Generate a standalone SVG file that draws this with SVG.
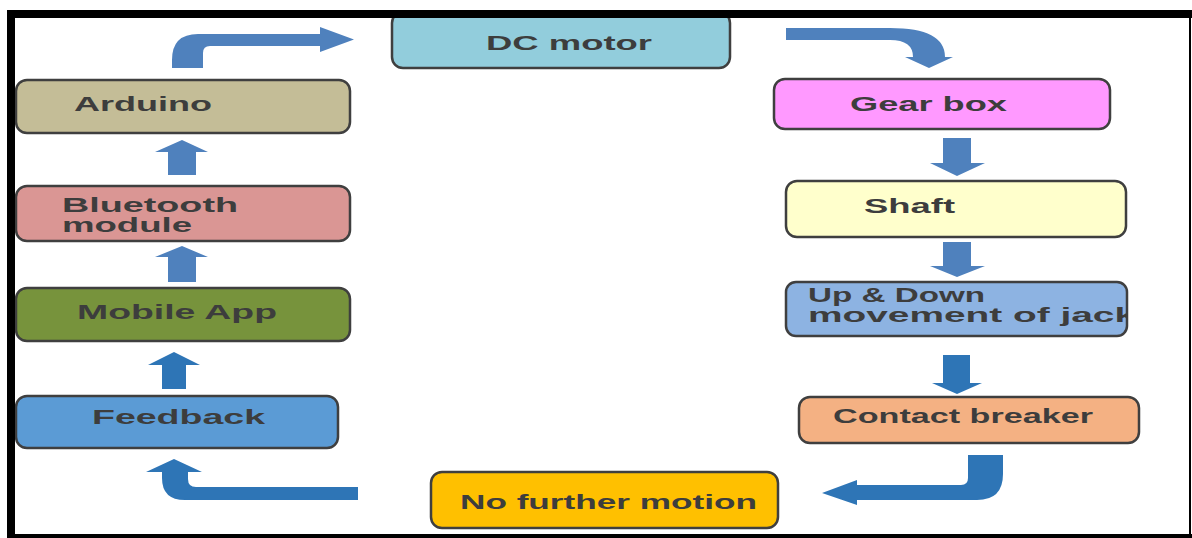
<svg xmlns="http://www.w3.org/2000/svg" width="1192" height="538" viewBox="0 0 1192 538">
<style>
.box{stroke:#3f3f3f;stroke-width:2.5}
.t{font-family:"Liberation Sans",Arial,sans-serif;font-weight:bold;font-size:20px;fill:#3d3d3d}
.a1{fill:#4f81bd}
.a2{fill:#2e75b6}
.frame{fill:#000000}
</style>
<defs>
<clipPath id="clipJack"><rect x="786" y="282" width="341" height="54" rx="10"/></clipPath>
</defs>
<rect x="0" y="0" width="1192" height="538" fill="#ffffff"/>
<g id="dc-motor"><rect class="box" x="392" y="12" width="338" height="56" rx="11" fill="#92cddc"/><text class="t" x="486" y="50" textLength="166" lengthAdjust="spacingAndGlyphs">DC motor</text></g>
<g id="arduino"><rect class="box" x="16" y="80" width="334" height="53" rx="11" fill="#c4bd97"/><text class="t" x="74" y="111" textLength="138" lengthAdjust="spacingAndGlyphs">Arduino</text></g>
<g id="bluetooth"><rect class="box" x="16" y="186" width="334" height="55" rx="11" fill="#da9694"/><text class="t" x="62" y="212" textLength="176" lengthAdjust="spacingAndGlyphs">Bluetooth</text><text class="t" x="62" y="232" textLength="130" lengthAdjust="spacingAndGlyphs">module</text></g>
<g id="mobile-app"><rect class="box" x="16" y="288" width="334" height="53" rx="11" fill="#77933c"/><text class="t" x="77" y="319" textLength="200" lengthAdjust="spacingAndGlyphs">Mobile App</text></g>
<g id="feedback"><rect class="box" x="16" y="396" width="322" height="52" rx="11" fill="#5b9bd5"/><text class="t" x="92" y="424" textLength="173" lengthAdjust="spacingAndGlyphs">Feedback</text></g>
<g id="no-further-motion"><rect class="box" x="431" y="472" width="347" height="56" rx="11" fill="#ffc000"/><text class="t" x="460" y="509" textLength="297" lengthAdjust="spacingAndGlyphs">No further motion</text></g>
<g id="gear-box"><rect class="box" x="774" y="79" width="336" height="50" rx="11" fill="#ff99ff"/><text class="t" x="850" y="111" textLength="157" lengthAdjust="spacingAndGlyphs">Gear box</text></g>
<g id="shaft"><rect class="box" x="786" y="181" width="340" height="56" rx="11" fill="#ffffcc"/><text class="t" x="864" y="213" textLength="91" lengthAdjust="spacingAndGlyphs">Shaft</text></g>
<g id="up-down"><rect class="box" x="786" y="282" width="341" height="54" rx="10" fill="#8db3e2"/><g clip-path="url(#clipJack)"><text class="t" x="808" y="302" textLength="177" lengthAdjust="spacingAndGlyphs">Up &amp; Down</text><text class="t" x="808" y="322" textLength="328" lengthAdjust="spacingAndGlyphs">movement of jack</text></g></g>
<g id="contact-breaker"><rect class="box" x="799" y="397" width="340" height="46" rx="11" fill="#f4b183"/><text class="t" x="833" y="423" textLength="260" lengthAdjust="spacingAndGlyphs">Contact breaker</text></g>
<g id="connectors">
<path class="a1" d="M172,68 L172,60 Q172,34 198,34 L320,34 L320,27 L354,39.5 L320,52 L320,46 L210,46 Q203,46 203,53 L203,68 Z"/>
<path class="a1" d="M786,28 L890,28 Q945,28 945,57 L953,57 L929,68 L905,57 L913,57 Q913,40 890,40 L786,40 Z"/>
<path class="a1" d="M168,175 L168,152 L155,152 L182,140 L208,152 L196,152 L196,175 Z"/>
<path class="a1" d="M168,282 L168,257 L155,257 L182,246 L208,257 L196,257 L196,282 Z"/>
<path class="a2" d="M162,389 L162,365 L148,365 L174,352 L200,365 L186,365 L186,389 Z"/>
<path class="a2" d="M358,487 L196,487 Q188,487 188,479 L188,472 L202,472 L174,459 L146,472 L162,472 L162,478 Q162,500 185,500 L358,500 Z"/>
<path class="a1" d="M943,138 L971,138 L971,163 L985,163 L957,176 L930,163 L943,163 Z"/>
<path class="a1" d="M943,242 L971,242 L971,266 L985,266 L957,277 L930,266 L943,266 Z"/>
<path class="a2" d="M943,355 L970,355 L970,383 L982,383 L957,394 L932,383 L943,383 Z"/>
<path class="a2" d="M968,455 L1003,455 L1003,474 Q1003,500 977,500 L857,500 L857,505 L822,493 L857,480 L857,485 L961,485 Q968,485 968,478 Z"/>
</g>
<rect class="frame" x="7" y="10" width="1185" height="8"/>
<rect class="frame" x="7" y="10" width="8" height="528"/>
<rect class="frame" x="7" y="534" width="1185" height="4"/>
<rect class="frame" x="1189" y="10" width="2" height="528"/>
</svg>
